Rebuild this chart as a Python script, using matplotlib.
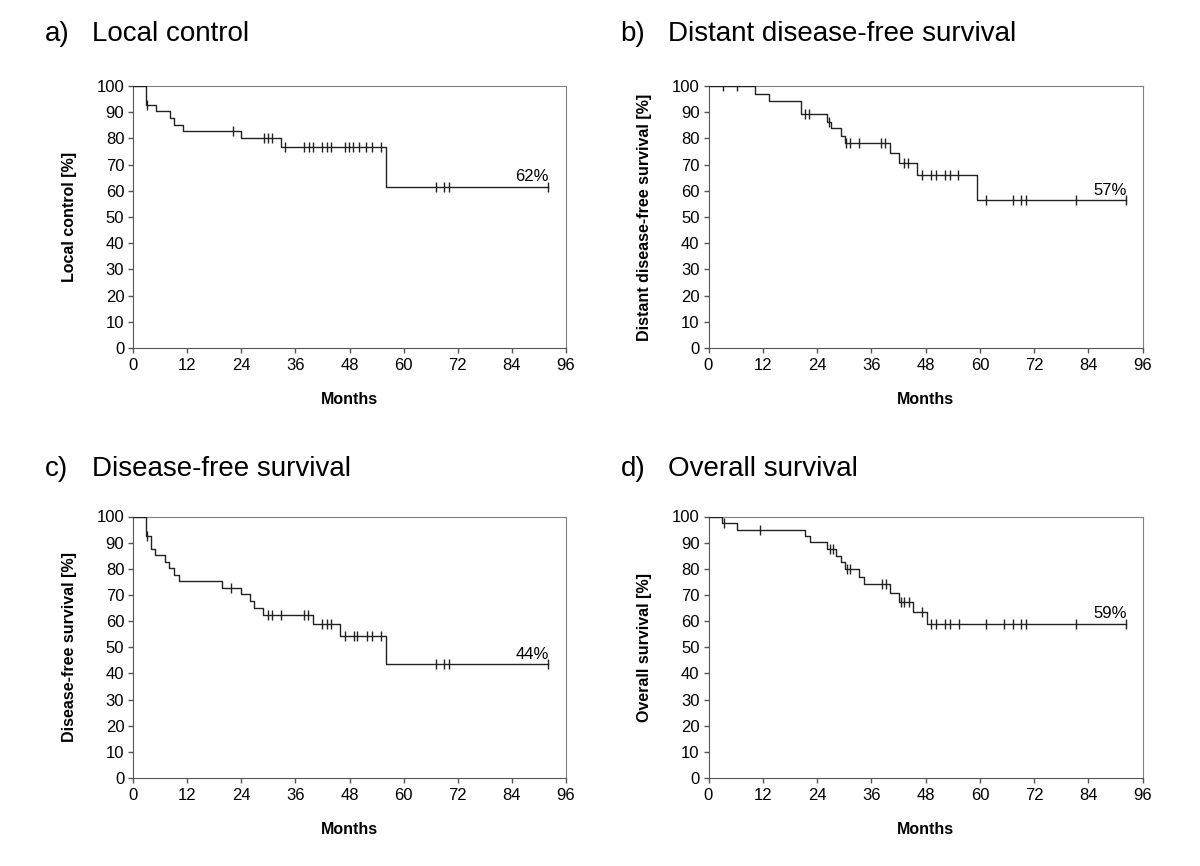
import numpy as np
import matplotlib
matplotlib.use("Agg")
import matplotlib.pyplot as plt

plt.rcParams['font.family'] = ['Liberation Sans', 'DejaVu Sans']

# a) Local control
a_times = [0, 2.8, 5.0, 8.1, 9.1, 11.1, 24.0, 32.9, 56.0, 92.0]
a_surv = [100, 92.7, 90.5, 87.7, 85.1, 82.7, 80.0, 76.6, 61.5, 61.5]
a_cens = [3.1, 22.1, 29.0, 30.0, 30.9, 33.7, 38.0, 39.0, 39.8, 42.0, 42.9, 44.0,
          47.0, 47.9, 48.8, 50.2, 51.6, 53.1, 55.0, 67.1, 69.0, 70.1, 92.0]

# b) Distant disease-free survival
b_times = [0, 10.3, 13.3, 20.4, 26.3, 27.0, 29.3, 30.2, 40.1, 42.1, 46.2, 59.3, 92.2]
b_surv = [100, 97.1, 94.2, 89.3, 86.4, 83.8, 80.9, 78.4, 74.4, 70.5, 65.9, 56.4, 56.4]
b_cens = [3.3, 6.4, 21.3, 22.3, 26.6, 30.5, 31.2, 33.2, 38.2, 39.1, 43.2, 44.2,
          47.2, 49.3, 50.3, 52.3, 53.3, 55.2, 61.3, 67.3, 69.1, 70.2, 81.2, 92.2]

# c) Disease-free survival
c_times = [0, 2.8, 3.9, 4.9, 7.0, 7.9, 9.0, 10.1, 19.8, 23.9, 25.9, 26.9, 28.9,
           39.8, 45.9, 56.0, 92.0]
c_surv = [100, 92.6, 87.6, 85.2, 82.7, 80.2, 77.8, 75.3, 72.7, 70.2, 67.6, 65.1,
          62.4, 58.9, 54.3, 43.5, 43.5]
c_cens = [3.0, 21.7, 29.8, 30.9, 32.9, 37.8, 38.8, 41.9, 42.9, 44.0, 47.0, 49.1,
          49.6, 51.9, 53.0, 55.1, 67.1, 69.0, 70.1, 92.0]

# d) Overall survival
d_times = [0, 2.9, 6.4, 21.3, 22.4, 26.3, 28.3, 29.3, 30.2, 33.3, 34.3, 40.1,
           42.1, 45.3, 48.2, 92.2]
d_surv = [100, 97.4, 94.8, 92.5, 90.1, 87.5, 84.9, 82.5, 79.9, 77.0, 74.1, 70.6,
          67.4, 63.4, 58.9, 58.9]
d_cens = [3.5, 11.4, 26.8, 27.5, 30.6, 31.3, 38.3, 39.2, 42.6, 43.2, 44.3, 47.3,
          49.3, 50.2, 52.3, 53.4, 55.4, 61.3, 65.3, 67.3, 69.2, 70.1, 81.2, 92.2]

panels = [
    ('a)', 'Local control', 'Local control [%]', '62%', a_times, a_surv, a_cens),
    ('b)', 'Distant disease-free survival', 'Distant disease-free survival [%]', '57%',
     b_times, b_surv, b_cens),
    ('c)', 'Disease-free survival', 'Disease-free survival [%]', '44%',
     c_times, c_surv, c_cens),
    ('d)', 'Overall survival', 'Overall survival [%]', '59%', d_times, d_surv, d_cens),
]

W, H = 1200, 866
# axes boxes in pixels: left, top, right, bottom, heading baseline
boxes = [(133.3, 86, 565.7, 348, 41), (708.5, 86, 1142.7, 348, 41),
         (133.3, 516.5, 565.7, 778, 476), (708.5, 516.5, 1142.7, 778, 476)]

fig = plt.figure(figsize=(12, 8.66), dpi=100)

for (letter, title, ylab, pct, times, surv, cens), (l, t, r, b, hy) in zip(panels, boxes):
    ax = fig.add_axes([l / W, 1 - b / H, (r - l) / W, (b - t) / H])

    ax.step(times, surv, where='post', color='#222222', lw=1.0, zorder=3)
    idx = np.searchsorted(times, cens, side='right') - 1
    levels = np.array(surv)[idx]
    ax.plot(cens, levels, ls='none', marker='|', ms=7, mew=1.0, color='#222222', zorder=4)

    ax.annotate(pct, (times[-1], surv[-1]), xytext=(1, 4), textcoords='offset points',
                ha='right', va='baseline', fontsize=12)

    ax.set_xlim(0, 96)
    ax.set_ylim(0, 100)
    ax.set_xticks(range(0, 97, 12))
    ax.set_yticks(range(0, 101, 10))
    ax.tick_params(labelsize=12, length=3.5, width=1, color='#555555', pad=3)
    ax.tick_params(axis='x', pad=4)
    for side in ['left', 'bottom']:
        ax.spines[side].set_color('#555555')
    for side in ['top', 'right']:
        ax.spines[side].set_color('#808080')

    ax.set_xlabel('Months', fontsize=11.5, fontweight='bold')
    ax.set_ylabel(ylab, fontsize=11.5, fontweight='bold')
    ax.xaxis.set_label_coords(0.5, -0.168)
    ax.yaxis.set_label_coords(-0.13, 0.5)

    # panel headings
    fig.text((l - 88) / W, 1 - hy / H, letter, fontsize=20, va='baseline')
    fig.text((l - 41) / W, 1 - hy / H, title, fontsize=20, va='baseline')

fig.savefig('out.png', dpi=100)
